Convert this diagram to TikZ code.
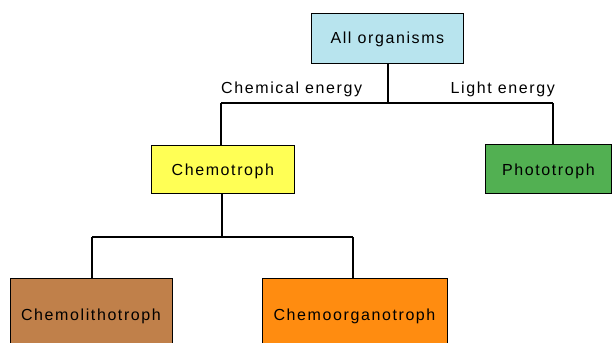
\documentclass[tikz,border=0pt]{standalone}
\usepackage{fontspec}
\setmainfont{Liberation Sans}[LetterSpace=10]
\begin{document}
\begin{tikzpicture}[x=1pt,y=-1pt,
  box/.style={draw=black,line width=0.8pt,inner sep=0pt,anchor=north west,font=\fontsize{16}{18}\selectfont},
  conn/.style={draw=black,line width=1.2pt},
  lbl/.style={font=\fontsize{16}{18}\selectfont,inner sep=0pt}]
\useasboundingbox (0,0) rectangle (614,343);
\clip (0,0) rectangle (614,343);
\fill[white] (0,0) rectangle (614,343);
\definecolor{cblue}{HTML}{B8E4EE}
\definecolor{cyellow}{HTML}{FFFF55}
\definecolor{cgreen}{HTML}{52B052}
\definecolor{cbrown}{HTML}{C0804A}
\definecolor{corange}{HTML}{FF8C10}
\node[box,fill=cblue,minimum width=152pt,minimum height=50pt] (all) at (311,13) {};
\node[lbl] at ([yshift=-1pt]all.center) {All organisms};
\node[box,fill=cyellow,minimum width=143pt,minimum height=48pt] (chemo) at (151,145) {};
\node[lbl] at ([yshift=-2pt]chemo.center) {Chemotroph};
\node[box,fill=cgreen,minimum width=126pt,minimum height=49pt] (photo) at (485,144) {};
\node[lbl] at ([yshift=-2pt]photo.center) {Phototroph};
\node[box,fill=cbrown,minimum width=162pt,minimum height=80pt] (litho) at (10,278) {};
\node[lbl] at (91,316) {Chemolithotroph};
\node[box,fill=corange,minimum width=185pt,minimum height=80pt] (organo) at (262,278) {};
\node[lbl] at (354.5,316) {Chemoorganotroph};
\coordinate (j1) at (388,103);
\coordinate (j2) at (222,237);
\draw[conn] (all.south -| j1) -- (j1);
\draw[conn] (221,103) -- (553,103);
\draw[conn] (221,103) -- (chemo.north -| 221,0);
\draw[conn] (553,103) -- (photo.north -| 553,0);
\draw[conn] (chemo.south -| j2) -- (j2);
\draw[conn] (92,237) -- (353,237);
\draw[conn] (92,237) -- (litho.north -| 92,0);
\draw[conn] (353,237) -- (organo.north -| 353,0);
\node[lbl,anchor=west] (chemlbl) at (221,89) {Chemical energy};
\node[lbl,anchor=east] (lightlbl) at (555,89) {Light energy};
\end{tikzpicture}
\end{document}
